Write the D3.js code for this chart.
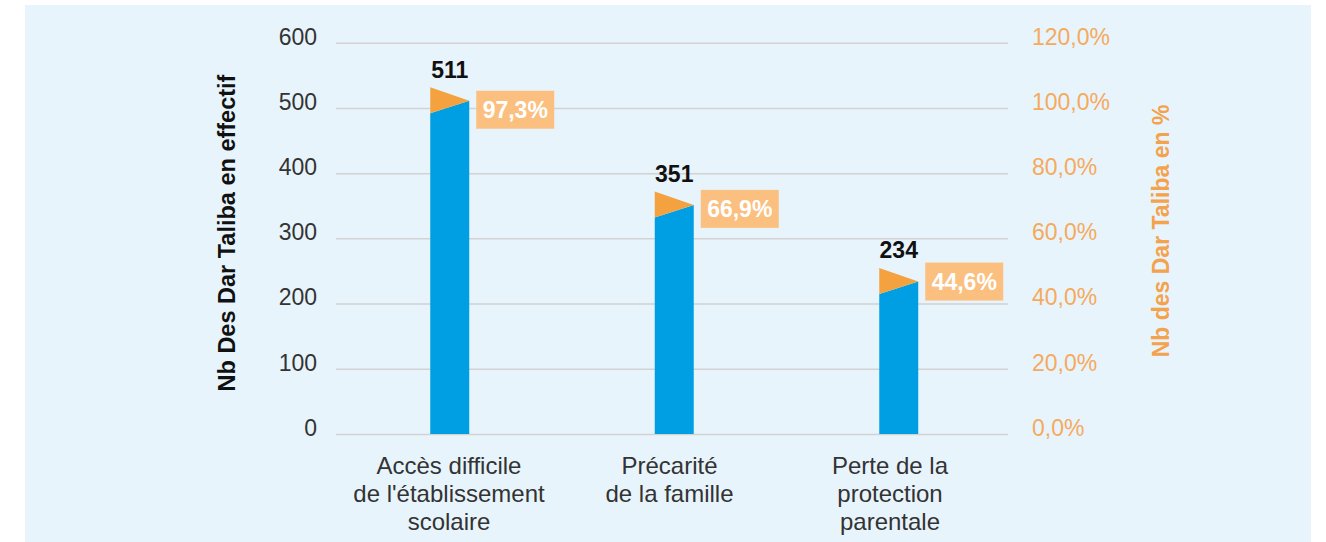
<!DOCTYPE html>
<html>
<head>
<meta charset="utf-8">
<script src="https://cdn.jsdelivr.net/npm/d3@7"></script>
<style>
  body { margin: 0; background: #fff; }
  svg { display: block; font-family: "Liberation Sans", Arial, sans-serif; }
</style>
</head>
<body>
<div id="vis"></div>
<script>
// chart values
var categories = [
    "Accès difficile\nde l'établissement\nscolaire",
    "Précarité\nde la famille",
    "Perte de la\nprotection\nparentale"
];
var effectifs = [511, 351, 234];
var pourcentages = [97.3, 66.9, 44.6];
var leftTicks = [0, 100, 200, 300, 400, 500, 600];
var rightTicks = [0, 20, 40, 60, 80, 100, 120];

var width = 1326;
var height = 542;
var plot = { left: 336, right: 1008, top: 42.7, bottom: 434 };

var blue = "#009fe3";
var orange = "#f4a240";
var lightOrange = "#fbc07f";
var axisOrange = "#f5aa5c";
var textDark = "#333";

var frFormat = (d) => d3.format(".1f")(d).replace(".", ",") + "%";

var svg = d3.select("#vis")
    .append("svg")
    .attr("width", width)
    .attr("height", height);

// panel background
svg.append("rect")
    .attr("x", 25).attr("y", 5)
    .attr("width", 1286).attr("height", height - 5)
    .attr("fill", "#e8f4fc");

var x = d3.scaleBand()
    .domain(categories)
    .range([plot.left + 1.5, plot.right + 3]);

// category text sits a bit tighter than the bars
var xLabel = d3.scaleBand()
    .domain(categories)
    .range([plot.left + 2.75, plot.right - 7.75]);

var y = d3.scaleLinear()
    .domain([0, 600])
    .range([plot.bottom, plot.top]);

var yPct = d3.scaleLinear()
    .domain([0, 120])
    .range([plot.bottom, plot.top]);

// left axis + gridlines
var leftAxis = svg.append("g")
    .attr("transform", "translate(" + plot.left + ",0)")
    .call(d3.axisLeft(y)
        .tickValues(leftTicks)
        .tickSize(-(plot.right - plot.left))
        .tickPadding(19));
leftAxis.select(".domain").remove();
leftAxis.selectAll(".tick line")
    .attr("stroke", "#d2d2d2")
    .attr("stroke-width", 1.5);
leftAxis.selectAll(".tick text")
    .attr("y", -6)
    .attr("fill", textDark)
    .style("font-size", "23px");

// right axis
var rightAxis = svg.append("g")
    .attr("transform", "translate(" + plot.right + ",0)")
    .call(d3.axisRight(yPct)
        .tickValues(rightTicks)
        .tickSize(0)
        .tickFormat(frFormat)
        .tickPadding(24));
rightAxis.select(".domain").remove();
rightAxis.selectAll(".tick text")
    .attr("y", -6)
    .attr("fill", axisOrange)
    .style("font-size", "23px");

// axis titles
svg.append("text")
    .attr("transform", "translate(235,233) rotate(-90)")
    .attr("text-anchor", "middle")
    .attr("fill", "#111")
    .style("font-size", "23.5px")
    .style("font-weight", "bold")
    .text("Nb Des Dar Taliba en effectif");

svg.append("text")
    .attr("transform", "translate(1169,231) rotate(-90)")
    .attr("text-anchor", "middle")
    .attr("fill", "#f5a24c")
    .style("font-size", "23px")
    .style("font-weight", "bold")
    .text("Nb des Dar Taliba en %");

// bars
var barWidth = 39;
var flapUp = 13.5;
var flapDown = 12.5;

var nodes = categories.map((c, i) => ({
    cat: c,
    value: effectifs[i],
    pct: pourcentages[i],
    x0: x(c) + x.bandwidth() / 2 - barWidth / 2,
    x1: x(c) + x.bandwidth() / 2 + barWidth / 2
}));

var groups = svg.selectAll(".bar")
    .data(nodes)
    .enter()
    .append("g")
    .classed("bar", true);

groups.append("path")
    .attr("fill", blue)
    .attr("d", (d) => {
        var top = y(d.value);
        return "M" + d.x0 + "," + y(0) +
            "L" + d.x0 + "," + (top + flapDown) +
            "L" + d.x1 + "," + top +
            "L" + d.x1 + "," + y(0) + "Z";
    });

groups.append("path")
    .attr("fill", orange)
    .attr("d", (d) => {
        var top = y(d.value);
        return "M" + d.x0 + "," + (top - flapUp) +
            "L" + d.x1 + "," + top +
            "L" + d.x0 + "," + (top + flapDown) + "Z";
    });

// value labels
groups.append("text")
    .attr("x", (d) => (d.x0 + d.x1) / 2)
    .attr("y", (d) => y(d.value) - 23)
    .attr("text-anchor", "middle")
    .attr("fill", "#111")
    .style("font-size", "23px")
    .style("font-weight", "bold")
    .text((d) => d.value);

// percent labels
var boxW = 78, boxH = 38;
groups.append("rect")
    .attr("x", (d) => d.x1 + 7)
    .attr("y", (d) => yPct(d.pct) - 7 - boxH / 2)
    .attr("width", boxW)
    .attr("height", boxH)
    .attr("fill", lightOrange);

groups.append("text")
    .attr("x", (d) => d.x1 + 7 + boxW / 2)
    .attr("y", (d) => yPct(d.pct) - 7)
    .attr("dy", "0.36em")
    .attr("text-anchor", "middle")
    .attr("fill", "#fff")
    .style("font-size", "23px")
    .style("font-weight", "bold")
    .text((d) => frFormat(d.pct));

// category labels
var catLabels = svg.selectAll(".cat")
    .data(categories)
    .enter()
    .append("text")
    .classed("cat", true)
    .attr("text-anchor", "middle")
    .attr("fill", textDark)
    .style("font-size", "24px");

catLabels.selectAll("tspan")
    .data((d) => d.split("\n").map((line) => ({ line: line, cat: d })))
    .enter()
    .append("tspan")
    .attr("x", (d) => xLabel(d.cat) + xLabel.bandwidth() / 2)
    .attr("y", (d, i) => 474 + i * 28)
    .text((d) => d.line);
</script>
</body>
</html>
